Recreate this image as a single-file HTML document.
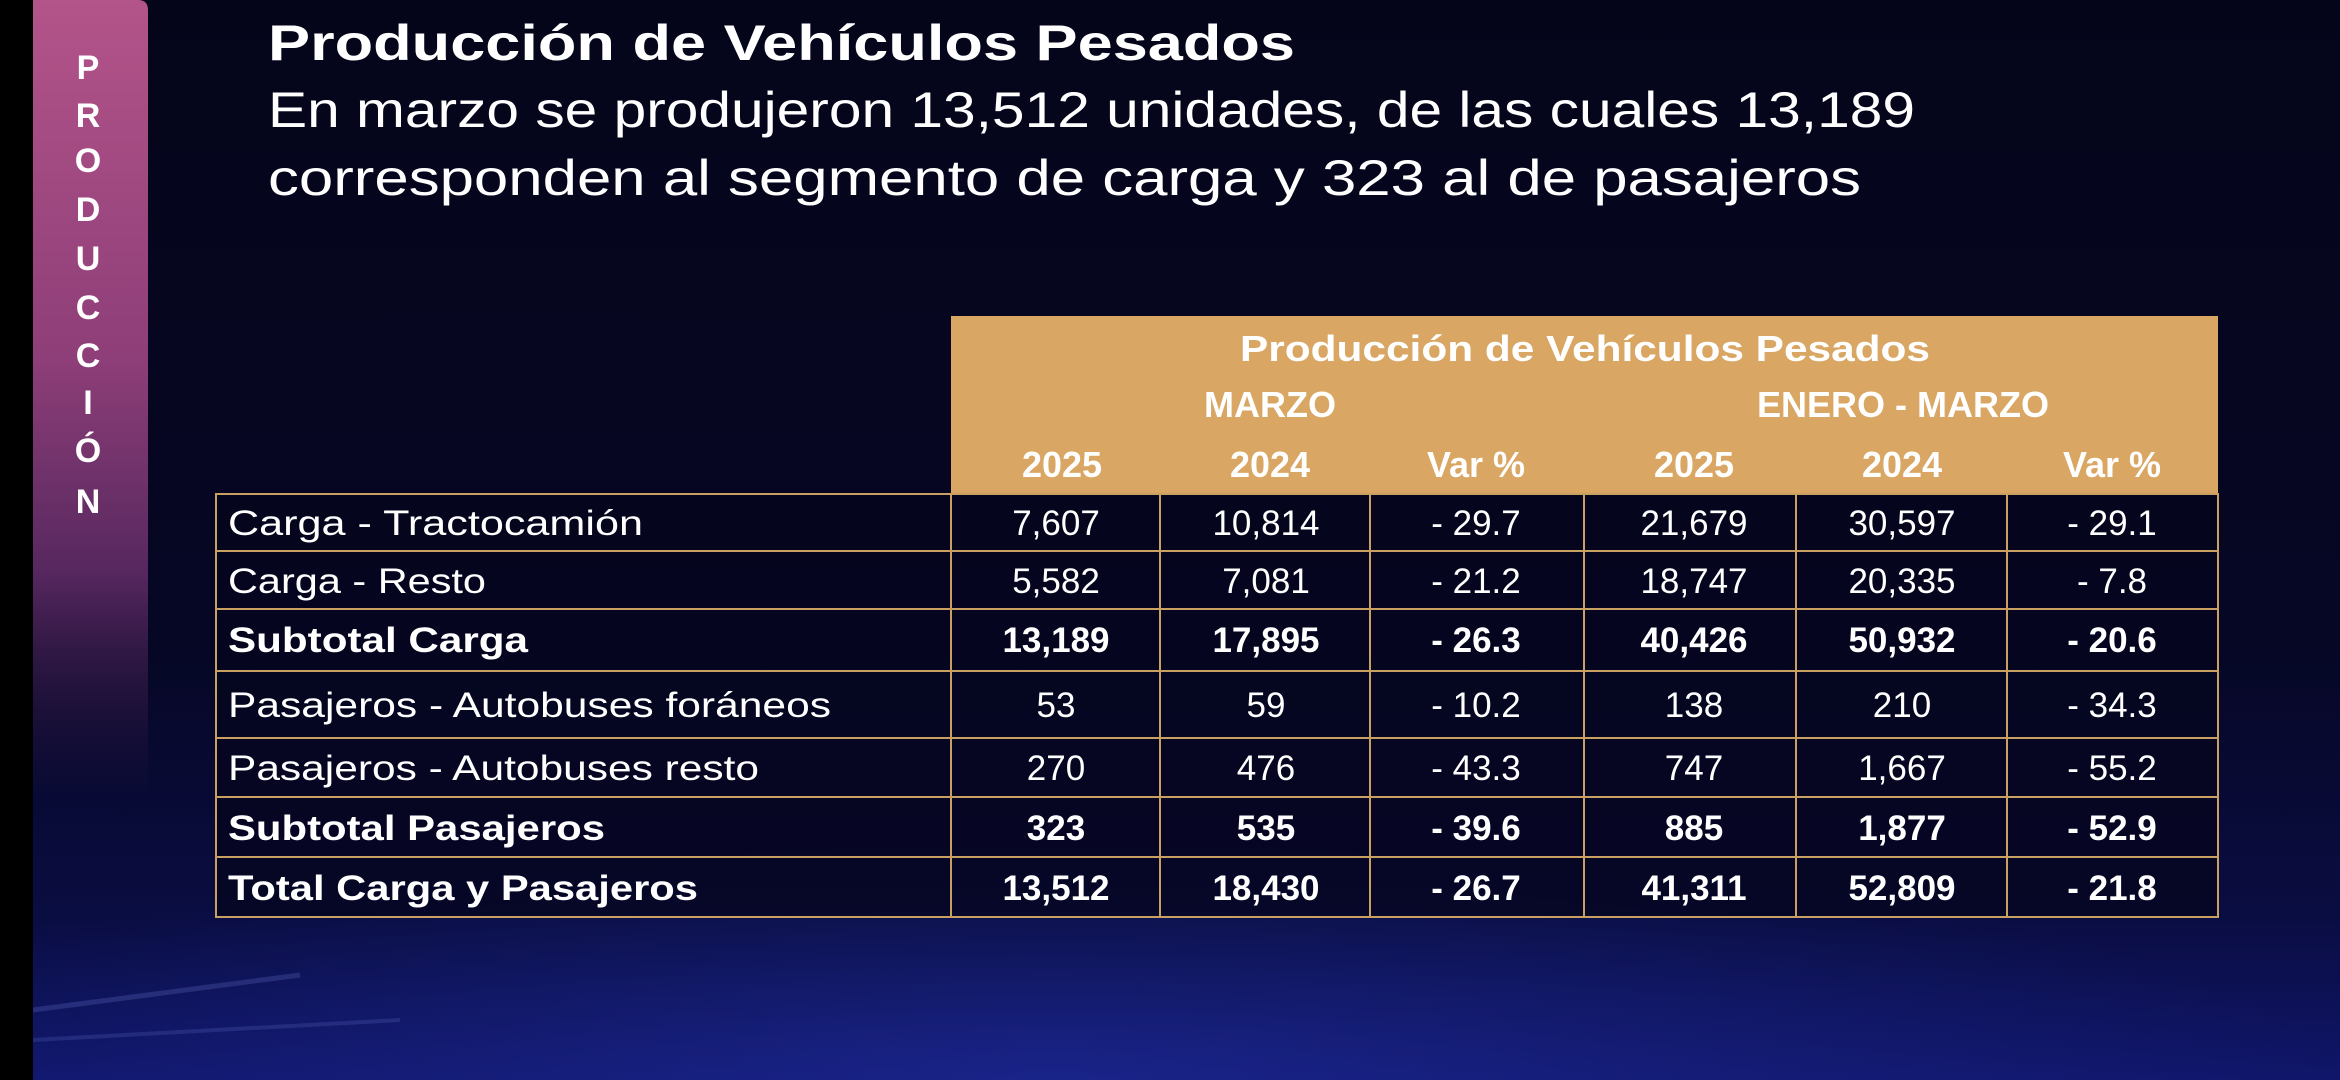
<!DOCTYPE html>
<html><head><meta charset="utf-8"><style>
html,body{margin:0;padding:0;width:2340px;height:1080px;overflow:hidden;background:#05051a}
svg{display:block}
text{font-family:"Liberation Sans",sans-serif;fill:#fff}
</style></head><body>
<svg width="2340" height="1080" viewBox="0 0 2340 1080" xmlns="http://www.w3.org/2000/svg">
<defs>
<linearGradient id="bg" x1="0" y1="0" x2="0" y2="1">
<stop offset="0" stop-color="#05051a"/><stop offset="0.6" stop-color="#060725"/><stop offset="0.85" stop-color="#0a0d42"/><stop offset="1" stop-color="#10166a"/>
</linearGradient>
<radialGradient id="glow" cx="0.45" cy="1" r="0.55">
<stop offset="0" stop-color="#2535b0" stop-opacity="0.45"/><stop offset="1" stop-color="#2030a0" stop-opacity="0"/>
</radialGradient>
<linearGradient id="pink" x1="0" y1="0" x2="0" y2="800" gradientUnits="userSpaceOnUse">
<stop offset="0" stop-color="#b3548a"/><stop offset="0.45" stop-color="#8e3e78"/><stop offset="0.72" stop-color="#55275e"/><stop offset="1" stop-color="#2a1540" stop-opacity="0"/>
</linearGradient>
</defs>
<rect width="2340" height="1080" fill="url(#bg)"/>
<rect x="0" y="650" width="2340" height="430" fill="url(#glow)"/>
<path d="M33 1010 L300 975" stroke="#8fa0ff" stroke-opacity="0.18" stroke-width="5"/>
<path d="M33 1040 L400 1020" stroke="#8fa0ff" stroke-opacity="0.15" stroke-width="4"/>
<rect x="0" y="0" width="33" height="1080" fill="#000"/>
<path d="M33 0 H138 Q148 0 148 10 V800 H33 Z" fill="url(#pink)"/>
<g font-weight="bold" font-size="34" text-anchor="middle">
<text x="88" y="79">P</text><text x="88" y="127">R</text><text x="88" y="172">O</text><text x="88" y="221">D</text><text x="88" y="270">U</text><text x="88" y="319">C</text><text x="88" y="367">C</text><text x="88" y="414">I</text><text x="88" y="462">Ó</text><text x="88" y="513">N</text>
</g>
<text x="268" y="60" font-size="50" font-weight="bold" textLength="1027" lengthAdjust="spacingAndGlyphs">Producción de Vehículos Pesados</text>
<text x="268" y="127" font-size="50" textLength="1647" lengthAdjust="spacingAndGlyphs">En marzo se produjeron 13,512 unidades, de las cuales 13,189</text>
<text x="268" y="195" font-size="50" textLength="1593" lengthAdjust="spacingAndGlyphs">corresponden al segmento de carga y 323 al de pasajeros</text>
<rect x="951" y="316" width="1267" height="178" fill="#d9a663"/>
<g font-weight="bold" font-size="36" text-anchor="middle">
<text x="1585" y="361" textLength="690" lengthAdjust="spacingAndGlyphs">Producción de Vehículos Pesados</text>
<text x="1270" y="417">MARZO</text><text x="1903" y="417">ENERO - MARZO</text>
<text x="1062" y="477">2025</text><text x="1270" y="477">2024</text><text x="1476" y="477">Var %</text>
<text x="1694" y="477">2025</text><text x="1902" y="477">2024</text><text x="2112" y="477">Var %</text>
</g>
<rect x="216" y="494" width="2002" height="423" fill="#05061e" fill-opacity="0.75"/>
<g stroke="#c9a062" stroke-width="2" fill="none">
<rect x="216" y="494" width="2002" height="423"/>
<line x1="216" y1="551" x2="2218" y2="551"/><line x1="216" y1="609" x2="2218" y2="609"/><line x1="216" y1="671" x2="2218" y2="671"/><line x1="216" y1="738" x2="2218" y2="738"/><line x1="216" y1="797" x2="2218" y2="797"/><line x1="216" y1="857" x2="2218" y2="857"/>
<line x1="951" y1="494" x2="951" y2="917"/><line x1="1160" y1="494" x2="1160" y2="917"/><line x1="1370" y1="494" x2="1370" y2="917"/><line x1="1584" y1="494" x2="1584" y2="917"/><line x1="1796" y1="494" x2="1796" y2="917"/><line x1="2007" y1="494" x2="2007" y2="917"/>
</g>
<g font-size="35">
<text x="228" y="535" textLength="415" lengthAdjust="spacingAndGlyphs">Carga - Tractocamión</text>
<text x="228" y="593" textLength="258" lengthAdjust="spacingAndGlyphs">Carga - Resto</text>
<text x="228" y="652" font-weight="bold" textLength="300" lengthAdjust="spacingAndGlyphs">Subtotal Carga</text>
<text x="228" y="717" textLength="603" lengthAdjust="spacingAndGlyphs">Pasajeros - Autobuses foráneos</text>
<text x="228" y="780" textLength="531" lengthAdjust="spacingAndGlyphs">Pasajeros - Autobuses resto</text>
<text x="228" y="840" font-weight="bold" textLength="377" lengthAdjust="spacingAndGlyphs">Subtotal Pasajeros</text>
<text x="228" y="900" font-weight="bold" textLength="470" lengthAdjust="spacingAndGlyphs">Total Carga y Pasajeros</text>
</g>
<g font-size="35" text-anchor="middle">
<g><text x="1056" y="535">7,607</text><text x="1266" y="535">10,814</text><text x="1476" y="535">- 29.7</text><text x="1694" y="535">21,679</text><text x="1902" y="535">30,597</text><text x="2112" y="535">- 29.1</text></g>
<g><text x="1056" y="593">5,582</text><text x="1266" y="593">7,081</text><text x="1476" y="593">- 21.2</text><text x="1694" y="593">18,747</text><text x="1902" y="593">20,335</text><text x="2112" y="593">- 7.8</text></g>
<g font-weight="bold"><text x="1056" y="652">13,189</text><text x="1266" y="652">17,895</text><text x="1476" y="652">- 26.3</text><text x="1694" y="652">40,426</text><text x="1902" y="652">50,932</text><text x="2112" y="652">- 20.6</text></g>
<g><text x="1056" y="717">53</text><text x="1266" y="717">59</text><text x="1476" y="717">- 10.2</text><text x="1694" y="717">138</text><text x="1902" y="717">210</text><text x="2112" y="717">- 34.3</text></g>
<g><text x="1056" y="780">270</text><text x="1266" y="780">476</text><text x="1476" y="780">- 43.3</text><text x="1694" y="780">747</text><text x="1902" y="780">1,667</text><text x="2112" y="780">- 55.2</text></g>
<g font-weight="bold"><text x="1056" y="840">323</text><text x="1266" y="840">535</text><text x="1476" y="840">- 39.6</text><text x="1694" y="840">885</text><text x="1902" y="840">1,877</text><text x="2112" y="840">- 52.9</text></g>
<g font-weight="bold"><text x="1056" y="900">13,512</text><text x="1266" y="900">18,430</text><text x="1476" y="900">- 26.7</text><text x="1694" y="900">41,311</text><text x="1902" y="900">52,809</text><text x="2112" y="900">- 21.8</text></g>
</g>
</svg>
</body></html>
